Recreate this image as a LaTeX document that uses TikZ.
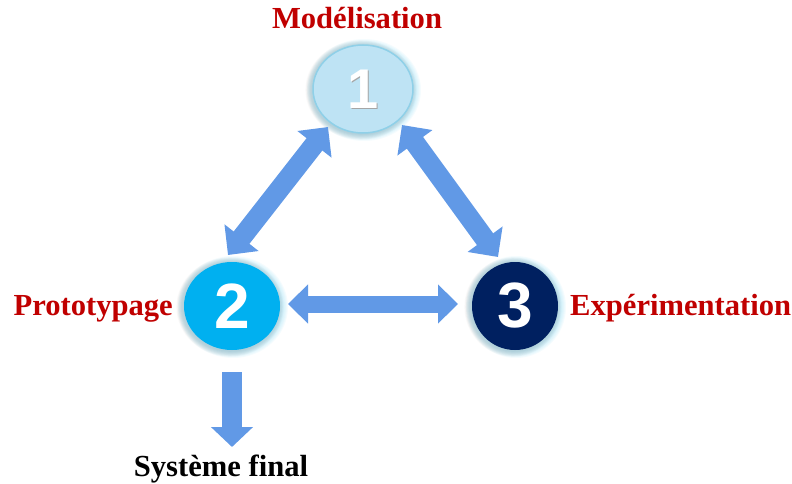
\documentclass[tikz,border=0pt]{standalone}
\usepackage{fontspec}
\setmainfont{Liberation Serif}
\newfontfamily\arialfont{Liberation Sans}
\usetikzlibrary{arrows.meta,shapes.geometric}
\definecolor{arrowblue}{HTML}{6199E6}
\definecolor{titlered}{HTML}{C00000}
\definecolor{cOne}{HTML}{BEE3F4}
\definecolor{cOneEdge}{HTML}{8FD0E8}
\definecolor{cTwo}{HTML}{00B0F0}
\definecolor{cThree}{HTML}{002060}
\definecolor{glow}{HTML}{7FD6F2}
\begin{document}
\begin{tikzpicture}[x=1pt,y=-1pt,
  lbl/.style={font=\bfseries\fontsize{30.6}{30.6}\selectfont, text=titlered, inner sep=0pt},
  bubble/.style={ellipse, inner sep=0pt, text=white, font=\arialfont\bfseries\fontsize{64}{64}\selectfont},
  blockarrow/.style={draw=arrowblue, line width=19pt,
     {Triangle[width=42pt,length=22pt]}-{Triangle[width=42pt,length=22pt]}},
  downarrow/.style={draw=arrowblue, line width=20pt, -{Triangle[width=41pt,length=20pt]}}
]
\useasboundingbox (0,0) rectangle (792,484);

% glows and shadows
\foreach \cx/\cy/\rx/\ry in {363/89/50/44, 232/306/48/44, 515/306/43/44}{
  \foreach \g in {1,...,7}{
    \fill[gray, opacity=0.05] (\cx-2,\cy+1) ellipse [x radius=\rx+\g*0.8, y radius=\ry+\g*0.8];
    \fill[glow, opacity=0.08] (\cx+1,\cy+1) ellipse [x radius=\rx+\g, y radius=\ry+\g];
  }
}

% nodes
\node[bubble, fill=cOne, draw=cOneEdge, line width=1.5pt, minimum width=100pt, minimum height=88pt,
      font=\arialfont\bfseries\fontsize{56}{56}\selectfont] (c1) at (363,89) {};
\node[text=gray!70, font=\arialfont\bfseries\fontsize{56}{56}\selectfont, inner sep=0pt] (c1s) at (364.2,90.2) {1};
\node[text=white, font=\arialfont\bfseries\fontsize{56}{56}\selectfont, inner sep=0pt] (c1t) at (363,89) {1};
\node[bubble, fill=cTwo, minimum width=96pt, minimum height=88pt] (c2) at (232,306) {2};
\node[bubble, fill=cThree, minimum width=86pt, minimum height=88pt] (c3) at (515,306) {3};

% labels
\node[lbl, anchor=base] (l1) at (357,29) {Modélisation};
\node[lbl, anchor=base east] (l2) at (173,315) {Prototypage};
\node[lbl, anchor=base west] (l3) at (570,315) {Expérimentation};
\node[lbl, anchor=base, text=black] (l4) at (221,476) {Système final};

% arrow ends
\coordinate (a12s) at (228,255);
\coordinate (a12e) at (328,127);
\coordinate (a13s) at (402,125);
\coordinate (a13e) at (498,257);
\coordinate (a23s) at (288,304);
\coordinate (a23e) at (458,304);
\coordinate (d1) at (232,372);
\coordinate (d2) at (232,447);

% connectors
\draw[blockarrow, line width=20pt] (a12s) -- (a12e);
\draw[blockarrow, line width=20pt] (a13s) -- (a13e);
\draw[blockarrow, line width=17pt, {Triangle[width=38pt,length=20pt]}-{Triangle[width=38pt,length=20pt]}] (a23s) -- (a23e);
\draw[downarrow] (d1) -- (d2);
\end{tikzpicture}
\end{document}
